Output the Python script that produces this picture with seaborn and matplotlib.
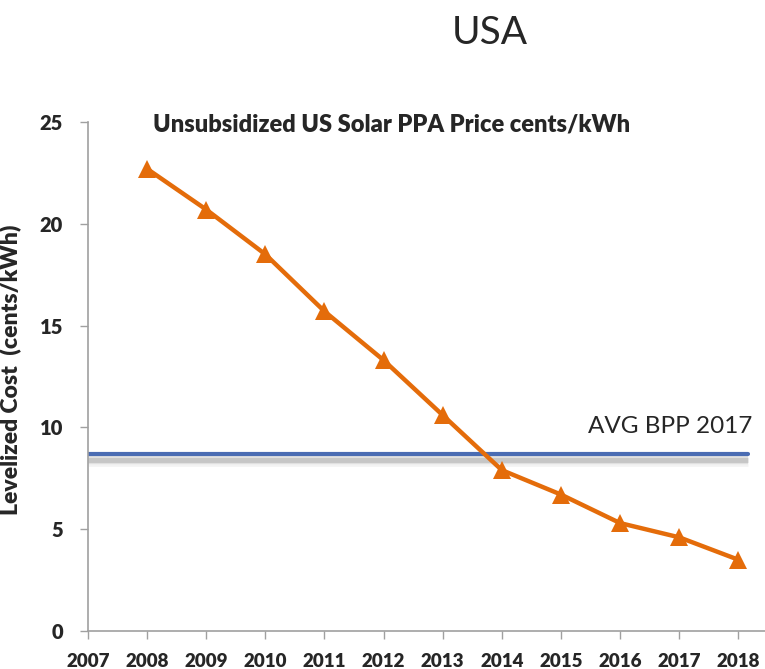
import pandas as pd
import seaborn as sns
import matplotlib.pyplot as plt

# data
years = [2008, 2009, 2010, 2011, 2012, 2013, 2014, 2015, 2016, 2017, 2018]
price = [22.7, 20.7, 18.5, 15.7, 13.3, 10.6, 7.9, 6.7, 5.3, 4.6, 3.5]
avg_bpp = 8.7
xticks = list(range(2007, 2019))
yticks = [0, 5, 10, 15, 20, 25]

df = pd.DataFrame({'year': years, 'price': price})

sns.set_style('white')
plt.rcParams['font.family'] = ['Lato', 'DejaVu Sans']

fig = plt.figure(figsize=(7.65, 6.69), dpi=100)
ax = fig.add_axes([0.115, 0.0568, 0.885, 0.7608])

# blue average line with a soft grey shadow underneath
for w, a in [(9, 0.10), (6, 0.18), (3.5, 0.3)]:
    ax.axhline(avg_bpp - 0.3, xmin=0, xmax=0.975, color='#8a8a8a', lw=w, alpha=a,
               solid_capstyle='butt', zorder=1)
ax.axhline(avg_bpp, xmin=0, xmax=0.975, color='#4a6cb3', lw=3, zorder=2)

sns.lineplot(data=df, x='year', y='price', ax=ax, color='#e46c0a', lw=3.2,
             marker='^', markersize=13, markeredgewidth=0, zorder=3)

ax.set_xlim(2007, 2018.45)
ax.set_ylim(0, 25)
ax.set_xticks(xticks)
ax.set_yticks(yticks)
ax.set_xticklabels([str(t) for t in xticks], fontweight='heavy', fontsize=13.5)
ax.set_yticklabels([str(t) for t in yticks], fontweight='heavy', fontsize=14.5)
ax.tick_params(axis='both', direction='out', length=6, width=1, color='#a0a0a0',
               bottom=True, left=True)
ax.tick_params(axis='x', pad=10)
ax.tick_params(axis='y', pad=12)

for s in ['top', 'right']:
    ax.spines[s].set_visible(False)
for s in ['left', 'bottom']:
    ax.spines[s].set_color('#a0a0a0')
    ax.spines[s].set_linewidth(1.2)

ax.set_xlabel('')
ax.set_ylabel('Levelized Cost  (cents/kWh)', fontweight='heavy', fontsize=16.5)
ax.yaxis.set_label_coords(-0.098, 0.513)

ax.text(2015.45, 9.55, 'AVG BPP 2017', fontsize=17.5, ha='left', va='bottom')
ax.text(2008.1, 24.9, 'Unsubsidized US Solar PPA Price cents/kWh', fontsize=17,
        fontweight='heavy', ha='left', va='center')

fig.text(0.64, 0.95, 'USA', fontsize=28, ha='center', va='center')

plt.savefig('out.png', dpi=100)
